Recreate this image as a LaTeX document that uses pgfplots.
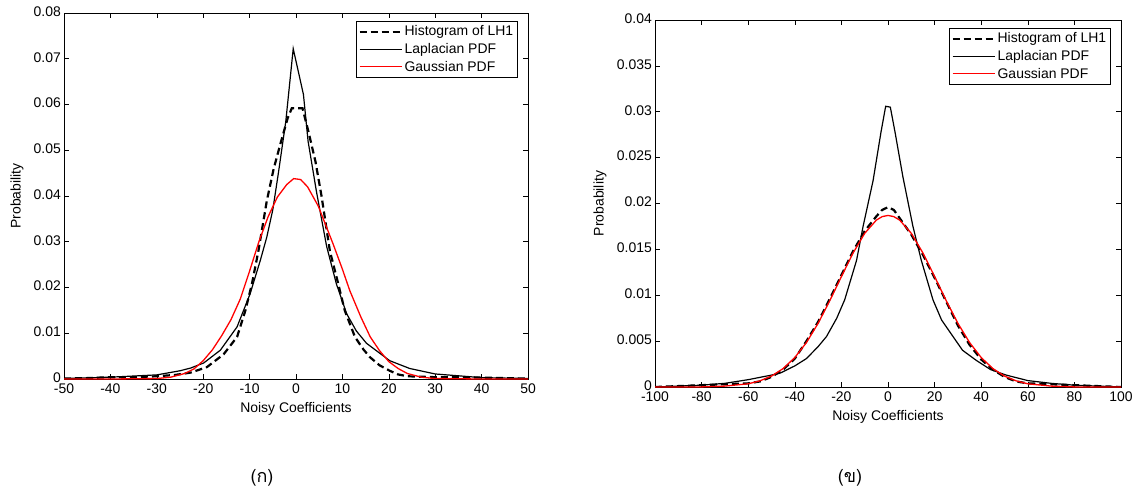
\documentclass[border=0pt]{standalone}
\usepackage{pgfplots}
\pgfplotsset{compat=1.18}
\usepackage{fontspec}
\setmainfont{Liberation Sans}
\newfontfamily\thaifont[Script=Thai]{Loma}

\pgfplotstableread{
x y
-50 0.0001
-45 0.0002
-40 0.0004
-35 0.0004
-30 0.0006
-26 0.0009
-22.7 0.0014
-19.2 0.0026
-15.6 0.0054
-12.7 0.0092
-10.9 0.0150
-9.5 0.0208
-8.1 0.0280
-6.3 0.0389
-4.8 0.0460
-3.2 0.0520
-1.8 0.0570
-0.9 0.0592
1.4 0.0592
2.7 0.0540
4.2 0.0475
5.5 0.0400
7.3 0.0280
9.1 0.0208
10.5 0.0150
12.7 0.0092
14.5 0.0065
15.9 0.0048
18 0.0030
20.2 0.0018
22 0.0010
24 0.0006
30 0.0004
35 0.0004
40 0.0003
45 0.0002
50 0.0001
}\histA

\pgfplotstableread{
x y
-50 0.0001
-40 0.0004
-30 0.0009
-25 0.0018
-22.7 0.0024
-19.9 0.0035
-16.3 0.0063
-12.7 0.0114
-9.9 0.0186
-7.7 0.0259
-6.3 0.0310
-5.0 0.0370
-3.8 0.0450
-2.2 0.0563
-0.6 0.0722
1.6 0.0622
2.6 0.0520
4.4 0.0410
6.6 0.0290
8.7 0.0208
10.9 0.0143
13 0.0105
15.2 0.0078
20.2 0.0040
24.5 0.0023
30 0.0011
40 0.0003
50 0.0001
}\lapA

\pgfplotstableread{
x y
-50 0
-40 0
-30 0.0001
-27 0.0004
-24 0.0012
-22 0.0022
-20 0.0040
-18 0.0064
-16 0.0095
-14 0.0130
-12 0.0175
-10 0.0236
-8 0.0300
-6 0.0355
-4 0.0398
-2 0.0425
-0.5 0.0438
1 0.0436
2.5 0.0420
4.8 0.0378
8 0.0295
10 0.0240
11.6 0.0193
14 0.0135
16 0.0092
18 0.0062
20 0.0038
22 0.0023
24 0.0012
27 0.0004
30 0.0001
40 0
50 0
}\gauA

\pgfplotstableread{
x y
-100 0
-90 0.0001
-80 0.0002
-70 0.0003
-60 0.0004
-55 0.0006
-50 0.0011
-45 0.0019
-40 0.0031
-35 0.0050
-30 0.0071
-25 0.0096
-20 0.0122
-15 0.0148
-10 0.0170
-5 0.0186
-2.5 0.0193
0 0.0196
2.5 0.0193
5 0.0184
10 0.0166
15 0.0144
20 0.0119
25 0.0093
30 0.0067
35 0.0046
40 0.0030
45 0.0019
50 0.0011
55 0.0006
60 0.0004
70 0.0003
80 0.0002
90 0.0001
100 0
}\histB

\pgfplotstableread{
x y
-100 0.0000
-90 0.0001
-80 0.0002
-70 0.0004
-60 0.0008
-50 0.0013
-46.4 0.0015
-40 0.0023
-35 0.0031
-30 0.0044
-26.4 0.0055
-22 0.0075
-18.6 0.0095
-13.5 0.0138
-10.7 0.0175
-6.4 0.0225
-3 0.0278
-1 0.0306
1 0.0305
3 0.0278
6.4 0.0229
10.7 0.0175
14.3 0.0138
19.3 0.0095
23 0.0073
27.9 0.0055
32 0.0040
37.9 0.0029
44 0.0019
50.7 0.0013
60 0.0007
70 0.0004
80 0.0002
90 0.0001
100 0.0000
}\lapB

\pgfplotstableread{
x y
-100 0
-80 0.00001
-70 0.0001
-60 0.00035
-55 0.00067
-50 0.00119
-45 0.00201
-40 0.00321
-35 0.00485
-30 0.00694
-25 0.0094
-20 0.01204
-15 0.0146
-10 0.01675
-5 0.01819
-2.5 0.01857
0 0.0187
2.5 0.01857
5 0.01819
10 0.01675
15 0.0146
20 0.01204
25 0.0094
30 0.00694
35 0.00485
40 0.00321
45 0.00201
50 0.00119
55 0.00067
60 0.00035
70 0.0001
80 0.00001
100 0
}\gauB

\pgfplotsset{
  myax/.style={
    scale only axis,
    tick align=inside,
    major tick length=5bp,
    axis line style={line width=0.8bp},
    every tick/.style={black, line width=0.6bp},
    /pgf/number format/assume math mode=true,
    tick label style={font=\fontsize{14}{16}\selectfont, inner sep=1.5bp},
    xticklabel style={yshift=-3bp},
    yticklabel style={xshift=-1.5bp, yshift=1.5bp},
    label style={font=\fontsize{14}{16}\selectfont},
    scaled y ticks=false,
    yticklabel style={/pgf/number format/fixed, /pgf/number format/precision=3},
    xlabel style={at={(axis description cs:0.5,0)}, anchor=center, yshift=-30bp},
    legend cell align=left,
    legend image code/.code={\draw[#1] (0bp,0bp) -- (42bp,0bp);},
    legend style={at={(1,1)}, anchor=north east, xshift=-10bp, yshift=-8bp,
      draw=black, line width=0.7bp, font=\fontsize{14}{16}\selectfont,
      inner sep=2.5bp, row sep=2bp},
    hist/.style={black, line width=2.2bp, dash pattern=on 7bp off 4bp},
    lap/.style={black, line width=1.2bp},
    gau/.style={red, line width=1.3bp},
  }
}

\begin{document}
\begin{tikzpicture}
\path[use as bounding box] (0,0) rectangle (1144bp,-493bp);

\begin{axis}[myax,
  at={(64bp,-379bp)}, anchor=south west,
  width=464bp, height=366bp,
  xmin=-50, xmax=50, ymin=0, ymax=0.08,
  xtick={-50,-40,...,50},
  ytick={0,0.01,...,0.08},
  xlabel={Noisy Coefficients},
  ylabel={Probability},
  ylabel style={at={(axis description cs:-0.101,0.5)}, anchor=center},
]
\addplot[hist] table {\histA};
\addplot[lap] table {\lapA};
\addplot[gau] table {\gauA};
\legend{Histogram of LH1, Laplacian PDF, Gaussian PDF}
\end{axis}

\begin{axis}[myax,
  at={(655bp,-387bp)}, anchor=south west,
  width=466bp, height=367bp,
  xmin=-100, xmax=100, ymin=0, ymax=0.04,
  xtick={-100,-80,...,100},
  ytick={0,0.005,...,0.04},
  xlabel={Noisy Coefficients},
  ylabel={Probability},
  ylabel style={at={(axis description cs:-0.118,0.5)}, anchor=center},
]
\addplot[hist] table {\histB};
\addplot[lap] table {\lapB};
\addplot[gau] table {\gauB};
\legend{Histogram of LH1, Laplacian PDF, Gaussian PDF}
\end{axis}

\node[font=\fontsize{18}{21}\selectfont] at (262bp,-478bp) {\thaifont (ก)};
\node[font=\fontsize{18}{21}\selectfont] at (850bp,-478bp) {\thaifont (ข)};
\end{tikzpicture}
\end{document}
